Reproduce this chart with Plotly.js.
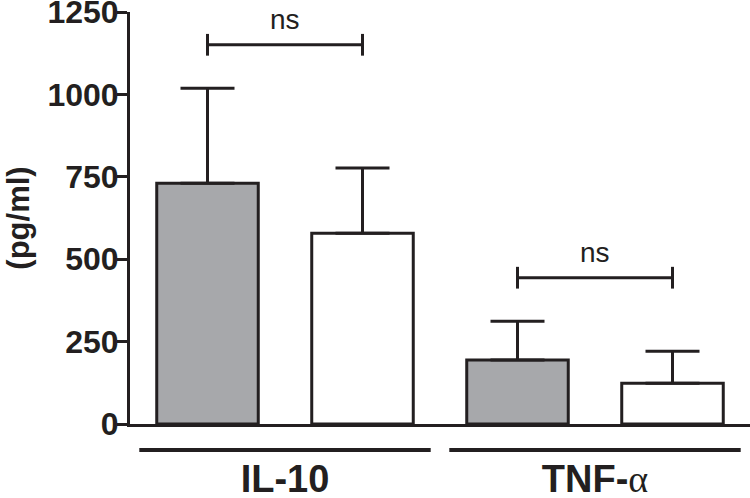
<!DOCTYPE html>
<html>
<head>
<meta charset="utf-8">
<script src="https://cdn.plot.ly/plotly-3.0.1.min.js"></script>
<style>html,body{margin:0;padding:0;background:#fff;}#chart{width:750px;height:498px;}</style>
</head>
<body>
<div id="chart"></div>
<script>
// ---- data ----
const categories = ['IL-10', 'TNF-\u03b1'];
const grayMeans = [731, 194];
const grayErr = [288, 118];
const whiteMeans = [579, 124];
const whiteErr = [198, 97];
const sigLabels = ['ns', 'ns'];
const yTickVals = [0, 250, 500, 750, 1000, 1250];

// ---- styling ----
const ink = '#231f20';
const grayFill = '#a7a8ab';
const catText = ['IL-10', 'TNF-<span style="font-family:\'Liberation Serif\',serif;font-weight:normal">\u03b1</span>'];

const grayX = categories.map((c, i) => 2 * i);
const whiteX = categories.map((c, i) => 2 * i + 1);
const groupCenters = categories.map((c, i) => 2 * i + 0.5);

function barTrace(x, y, err, fill, name) {
  return {
    type: 'bar', x: x, y: y, name: name, width: 0.655,
    marker: {color: fill, line: {color: ink, width: 3}},
    error_y: {type: 'data', symmetric: false, array: err, arrayminus: err.map(() => 0),
              color: ink, thickness: 3, width: 27},
    hoverinfo: 'skip'
  };
}

const traces = [
  barTrace(grayX, grayMeans, grayErr, grayFill, 'group 1'),
  barTrace(whiteX, whiteMeans, whiteErr, '#ffffff', 'group 2')
];

const shapes = [];
const annotations = [];
categories.forEach((c, i) => {
  const top = Math.max(grayMeans[i] + grayErr[i], whiteMeans[i] + whiteErr[i]);
  const by = top + 132;
  const x0 = grayX[i], x1 = whiteX[i];
  const ln = {color: ink, width: 3};
  shapes.push({type: 'line', xref: 'x', yref: 'y', x0: x0, x1: x1, y0: by, y1: by, line: ln});
  shapes.push({type: 'line', xref: 'x', yref: 'y', x0: x0, x1: x0, y0: by - 33, y1: by + 33, line: ln});
  shapes.push({type: 'line', xref: 'x', yref: 'y', x0: x1, x1: x1, y0: by - 33, y1: by + 33, line: ln});
  annotations.push({xref: 'x', yref: 'y', x: groupCenters[i], y: by, text: sigLabels[i],
    showarrow: false, yanchor: 'bottom', yshift: 8,
    font: {family: 'Liberation Sans, Arial, sans-serif', size: 28, color: ink}});
  // group underline
  shapes.push({type: 'line', xref: 'x', yref: 'paper', x0: groupCenters[i] - 0.94, x1: groupCenters[i] + 0.94,
    y0: -0.063, y1: -0.063, line: {color: ink, width: 4}});
});

const layout = {
  width: 750, height: 498,
  margin: {l: 130, r: 0, t: 12, b: 74, pad: 0},
  paper_bgcolor: '#ffffff', plot_bgcolor: '#ffffff',
  showlegend: false, barmode: 'overlay',
  font: {family: 'Liberation Sans, Arial, sans-serif', color: ink},
  xaxis: {
    range: [-0.5, 3.5], tickmode: 'array', tickvals: groupCenters, ticktext: catText,
    ticks: '', showline: true, linecolor: ink, linewidth: 3, showgrid: false, zeroline: false,
    tickfont: {family: 'Liberation Sans, Arial, sans-serif', size: 38, weight: 'bold', color: ink},
    ticklabelstandoff: 19, fixedrange: true, automargin: false, ticklabeloverflow: 'allow'
  },
  yaxis: {
    range: [0, 1250.5], tickmode: 'array', tickvals: yTickVals,
    ticks: 'outside', ticklen: 10, tickwidth: 3, tickcolor: ink,
    showline: true, linecolor: ink, linewidth: 3, showgrid: false, zeroline: false,
    tickfont: {family: 'Liberation Sans, Arial, sans-serif', size: 32, weight: 'bold', color: ink},
    ticklabelstandoff: -8, ticklabeloverflow: 'allow',
    title: {text: '(pg/ml)', font: {family: 'Liberation Sans, Arial, sans-serif', size: 31, weight: 'bold', color: ink}, standoff: 9},
    automargin: false, fixedrange: true
  },
  shapes: shapes,
  annotations: annotations
};

Plotly.newPlot('chart', traces, layout, {displayModeBar: false, staticPlot: true});
</script>
</body>
</html>
